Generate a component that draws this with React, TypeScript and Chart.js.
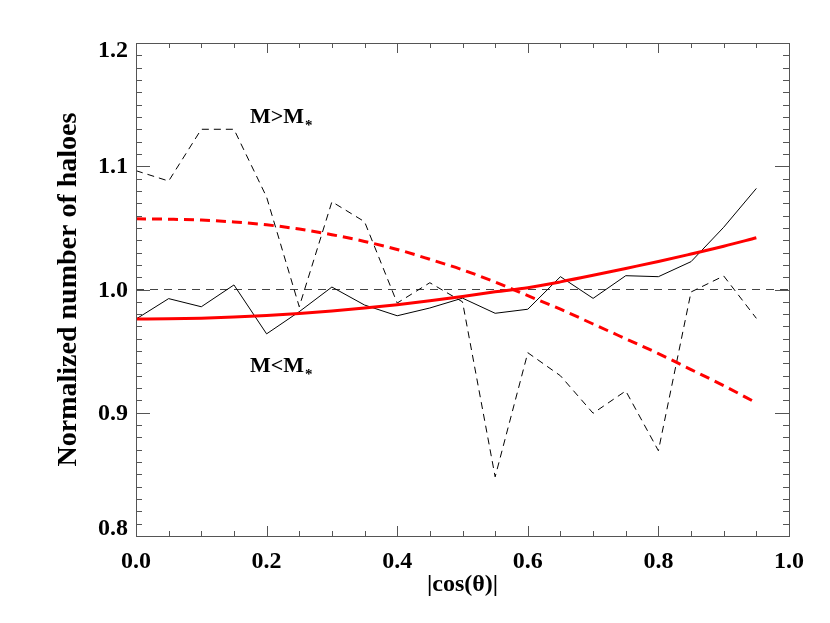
import React, { useEffect, useRef } from "react";
import { Chart, registerables } from "chart.js";
Chart.register(...registerables);

const FONT = '"Liberation Serif", "Times New Roman", Times, serif';

// |cos(theta)| bin positions
const xValues = [0, 0.05, 0.1, 0.15, 0.2, 0.25, 0.3, 0.35, 0.4, 0.45, 0.5, 0.55, 0.6, 0.65, 0.7, 0.75, 0.8, 0.85, 0.9, 0.95];
// M < M* (solid black)
const lowMass = [0.976, 0.9926, 0.986, 1.0037, 0.964, 0.982, 1.002, 0.9874, 0.9787, 0.985, 0.993, 0.9807, 0.984, 1.0104, 0.9928, 1.0112, 1.0104, 1.0226, 1.0505, 1.082];
// M > M* (dashed black)
const highMass = [1.0964, 1.088, 1.13, 1.13, 1.075, 0.986, 1.0712, 1.055, 0.989, 1.0055, 0.99, 0.848, 0.9487, 0.93, 0.8996, 0.9177, 0.8692, 0.998, 1.011, 0.9766];
// fit to M < M* (solid red)
const lowFit = [0.976, 0.9762, 0.9767, 0.9776, 0.9789, 0.9806, 0.9826, 0.9849, 0.9877, 0.9908, 0.9943, 0.9981, 1.0015, 1.0062, 1.0115, 1.0171, 1.0227, 1.0288, 1.0351, 1.042];
// fit to M > M* (dashed red)
const highFit = [1.0574, 1.057, 1.0563, 1.0548, 1.0525, 1.049, 1.0445, 1.039, 1.0325, 1.0245, 1.016, 1.006, 0.995, 0.984, 0.972, 0.96, 0.948, 0.935, 0.922, 0.908];
// reference level
const refX = [0, 1];
const refY = [1, 1];

const xMajorTicks = [0, 0.2, 0.4, 0.6, 0.8, 1.0];
const yTickValues = [0.8, 0.9, 1.0, 1.1, 1.2];
const yTickLabels = ["0.8", "0.9", "1.0", "1.1", "1.2"];

const pts = (xs: number[], ys: number[]) => xs.map((x, i) => ({ x, y: ys[i] }));

export default function App() {
  const ref = useRef<HTMLCanvasElement>(null);
  useEffect(() => {
    document.body.style.margin = "0";
    const canvas = ref.current!;
    const frame = {
      id: "idlFrame",
      afterDraw(chart: any) {
        const { ctx, chartArea } = chart;
        const xs = chart.scales.x;
        const ys = chart.scales.y;
        const { left, right, top, bottom } = chartArea;
        ctx.save();
        ctx.strokeStyle = "#555";
        ctx.lineWidth = 1;
        ctx.strokeRect(Math.round(left) + 0.5, Math.round(top) + 0.5, Math.round(right - left), Math.round(bottom - top));
        ctx.beginPath();
        for (let i = 0; i <= 20; i++) {
          const v = i * 0.05;
          const px = Math.round(xs.getPixelForValue(v)) + 0.5;
          const major = i % 4 === 0;
          const len = major ? 10 : 5;
          ctx.moveTo(px, bottom);
          ctx.lineTo(px, bottom - len);
          ctx.moveTo(px, top);
          ctx.lineTo(px, top + len);
        }
        for (let i = 0; i <= 40; i++) {
          const v = 0.8 + i * 0.01;
          const py = Math.round(ys.getPixelForValue(v)) + 0.5;
          const major = i % 10 === 0;
          const len = major ? 14 : 6;
          ctx.moveTo(left, py);
          ctx.lineTo(left + len, py);
          ctx.moveTo(right, py);
          ctx.lineTo(right - len, py);
        }
        ctx.stroke();

        // y tick labels
        ctx.fillStyle = "#000";
        ctx.font = `bold 24px ${FONT}`;
        ctx.textAlign = "right";
        ctx.textBaseline = "middle";
        yTickValues.forEach((v, i) => {
          let py = ys.getPixelForValue(v);
          if (i === yTickValues.length - 1) py += 7;
          if (i === 0) py -= 8;
          ctx.fillText(yTickLabels[i], left - 8, py + 1);
        });

        // annotations
        const drawLabel = (xv: number, yv: number, rel: string) => {
          const px = xs.getPixelForValue(xv);
          const py = ys.getPixelForValue(yv);
          ctx.textAlign = "left";
          ctx.textBaseline = "alphabetic";
          ctx.font = `bold 22px ${FONT}`;
          const main = "M" + rel + "M";
          ctx.fillText(main, px, py);
          const w = ctx.measureText(main).width;
          ctx.font = `bold 15px ${FONT}`;
          ctx.fillText("*", px + w + 1, py + 7);
        };
        drawLabel(0.1746, 1.1351, ">");
        drawLabel(0.1746, 0.9330, "<");
        ctx.restore();
      },
    };

    const chart = new Chart(canvas, {
      type: "line",
      data: {
        datasets: [
          {
            data: pts(xValues, lowFit),
            borderColor: "#ff0000",
            borderWidth: 3,
            pointRadius: 0,
            cubicInterpolationMode: "monotone",
          },
          {
            data: pts(xValues, highFit),
            borderColor: "#ff0000",
            borderWidth: 3,
            borderDash: [10, 6],
            pointRadius: 0,
            cubicInterpolationMode: "monotone",
          },
          {
            data: pts(xValues, lowMass),
            borderColor: "#000",
            borderWidth: 1,
            pointRadius: 0,
            tension: 0,
          },
          {
            data: pts(xValues, highMass),
            borderColor: "#000",
            borderWidth: 1,
            borderDash: [7, 5],
            pointRadius: 0,
            tension: 0,
          },
          {
            data: pts(refX, refY),
            borderColor: "#444",
            borderWidth: 1,
            borderDash: [8, 6],
            pointRadius: 0,
          },
        ],
      },
      options: {
        responsive: false,
        animation: false,
        devicePixelRatio: 1,
        layout: { padding: { left: 0, right: 41, top: 43, bottom: 0 } },
        plugins: { legend: { display: false }, tooltip: { enabled: false } },
        scales: {
          x: {
            type: "linear",
            min: 0,
            max: 1,
            grid: { display: false, drawTicks: false },
            border: { display: false },
            afterBuildTicks: (s: any) => {
              s.ticks = xMajorTicks.map((v) => ({ value: v }));
            },
            ticks: {
              autoSkip: false,
              maxRotation: 0,
              padding: 11,
              color: "#000",
              font: { family: FONT, size: 24, weight: "bold" },
              callback: (v: any) => Number(v).toFixed(1),
            },
            title: {
              display: true,
              text: "|cos(θ)|",
              color: "#000",
              font: { family: FONT, size: 24, weight: "bold" },
              padding: { top: 0, bottom: 24 },
            },
            afterFit: (s: any) => {
              s.height = 87;
            },
          },
          y: {
            type: "linear",
            min: 0.8,
            max: 1.2,
            grid: { display: false, drawTicks: false },
            border: { display: false },
            ticks: { display: false },
            title: {
              display: true,
              text: "Normalized number of haloes",
              color: "#000",
              font: { family: FONT, size: 28, weight: "bold" },
              padding: { top: 52, bottom: 0 },
            },
            afterFit: (s: any) => {
              s.width = 136;
            },
          },
        },
      },
      plugins: [frame],
    } as any);
    return () => chart.destroy();
  }, []);
  return <canvas ref={ref} width={830} height={623} style={{ display: "block" }} />;
}
